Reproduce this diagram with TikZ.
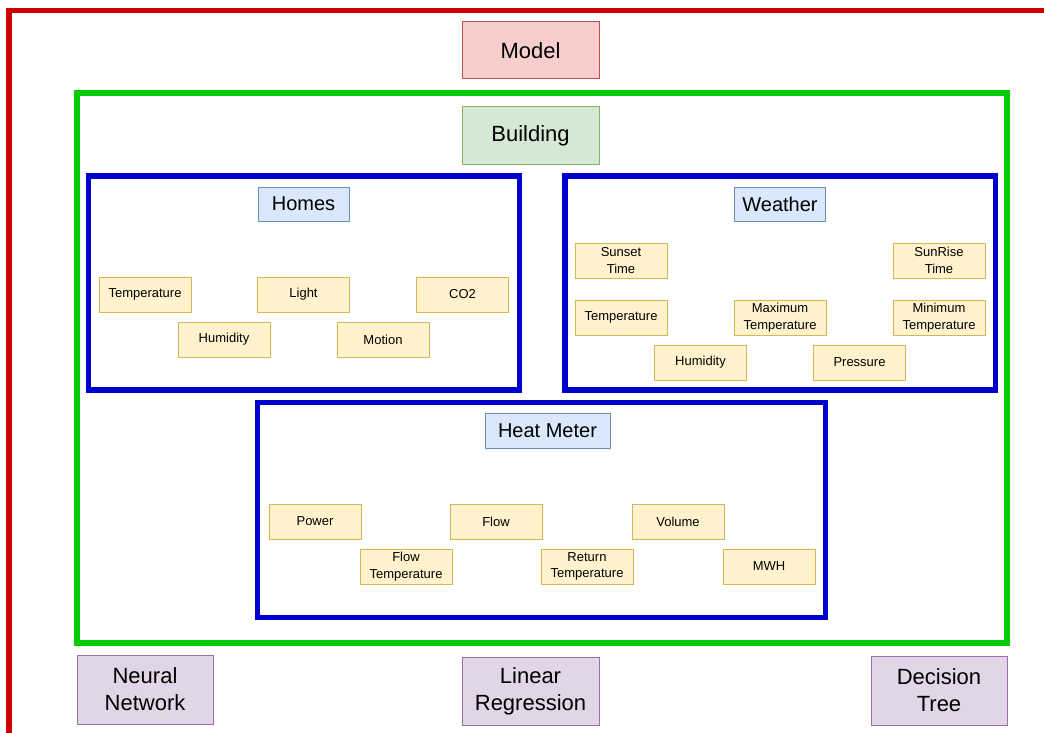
\documentclass[tikz,border=0pt]{standalone}
\usepackage{fontspec}
\setmainfont{Liberation Sans}
\begin{document}
\begin{tikzpicture}[x=1pt,y=-1pt,line join=miter,
  frame/.style={line width=5.5pt},
  titlebox/.style={draw=#1!80!black,line width=1pt,inner sep=0pt,align=center,
    font=\fontsize{22}{27}\selectfont},
  groupbox/.style={draw=groupedge,fill=groupfill,line width=1pt,inner sep=0pt,
    minimum width=91pt,minimum height=34pt,font=\fontsize{20}{24}\selectfont},
  item/.style={draw=itemedge,fill=itemfill,line width=1pt,inner sep=0pt,
    minimum width=92pt,minimum height=35pt,align=center,
    font=\fontsize{13}{16.5}\selectfont},
  algo/.style={draw=algoedge,fill=algofill,line width=1pt,inner sep=0pt,
    minimum width=137pt,minimum height=68pt,align=center,
    font=\fontsize{22}{27}\selectfont}]
\definecolor{redframe}{HTML}{CC0000}
\definecolor{greenframe}{HTML}{00CC00}
\definecolor{blueframe}{HTML}{0000CC}
\definecolor{modelfill}{HTML}{F8CECC}
\definecolor{modeledge}{HTML}{B85450}
\definecolor{buildfill}{HTML}{D5E8D4}
\definecolor{buildedge}{HTML}{82B366}
\definecolor{groupfill}{HTML}{DAE8FC}
\definecolor{groupedge}{HTML}{6C8EBF}
\definecolor{itemfill}{HTML}{FFF2CC}
\definecolor{itemedge}{HTML}{D6B656}
\definecolor{algofill}{HTML}{E1D5E7}
\definecolor{algoedge}{HTML}{9673A6}

\useasboundingbox (0,0) rectangle (1044,733);
\clip (0,0) rectangle (1044,733);
\fill[white] (0,0) rectangle (1044,733);

% outer model frame, running past the page edge
\draw[frame,draw=redframe] (9,10.5) rectangle (1100,800);
% building frame
\draw[line width=6pt,draw=greenframe] (77,93) rectangle (1007,643);
% sub-system frames
\draw[frame,draw=blueframe] (88.5,176) rectangle (519.5,390);
\draw[frame,draw=blueframe] (565,176) rectangle (995.5,390);
\draw[frame,draw=blueframe] (257.5,402.5) rectangle (825.7,617.5);

% top-level labels
\node[draw=modeledge,fill=modelfill,line width=1pt,inner sep=0pt,
  minimum width=137pt,minimum height=57pt,font=\fontsize{22}{27}\selectfont]
  (model) at (530.5,50.5) {Model};
\node[draw=buildedge,fill=buildfill,line width=1pt,inner sep=0pt,
  minimum width=137pt,minimum height=57pt,font=\fontsize{22}{27}\selectfont]
  (building) at (530.5,135.5) {Building};

% homes
\node[groupbox] (homes) at (303.5,204) {Homes};
\node[item] (htemp) at (145,294.5) {Temperature};
\node[item] (hlight) at (303.5,294.5) {Light};
\node[item] (hco2) at (462.5,294.5) {CO2};
\node[item] (hhum) at (224,339.5) {Humidity};
\node[item] (hmotion) at (383,339.5) {Motion};

% weather
\node[groupbox] (weather) at (780,204) {Weather};
\node[item] (wsunset) at (621,260.5) {Sunset\\Time};
\node[item] (wsunrise) at (939,260.5) {SunRise\\Time};
\node[item] (wtemp) at (621,317.5) {Temperature};
\node[item] (wmax) at (780,317.5) {Maximum\\Temperature};
\node[item] (wmin) at (939,317.5) {Minimum\\Temperature};
\node[item] (whum) at (700.5,362.5) {Humidity};
\node[item] (wpress) at (859.5,362.5) {Pressure};

% heat meter
\node[groupbox,minimum width=125pt,minimum height=35pt] (heat) at (547.5,430.5) {Heat Meter};
\node[item] (power) at (315,521.5) {Power};
\node[item] (flow) at (496,521.5) {Flow};
\node[item] (volume) at (678,521.5) {Volume};
\node[item] (flowtemp) at (406,566.5) {Flow\\Temperature};
\node[item] (rettemp) at (587,566.5) {Return\\Temperature};
\node[item] (mwh) at (769,566.5) {MWH};

% model types
\node[algo,minimum width=136pt,minimum height=69pt] (nn) at (145,689.5) {Neural\\Network};
\node[algo] (lr) at (530.5,691) {Linear\\Regression};
\node[algo,minimum width=136pt,minimum height=69pt] (dt) at (939,690.5) {Decision\\Tree};
\end{tikzpicture}
\end{document}
